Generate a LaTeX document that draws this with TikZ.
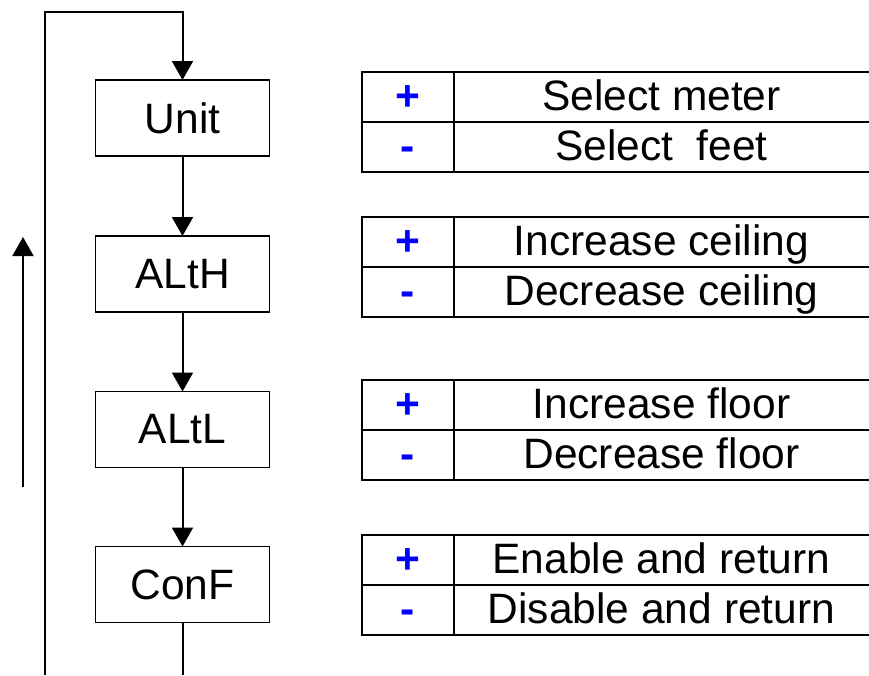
\documentclass[tikz,border=0pt]{standalone}
\usepackage{fontspec}
\setmainfont{Liberation Sans}
\usetikzlibrary{arrows.meta}
\begin{document}
\begin{tikzpicture}[x=1pt,y=-1pt,
  lbl/.style={font=\fontsize{42.5}{50}\selectfont},
  box/.style={lbl, draw, line width=1.5pt, minimum width=174pt, minimum height=76pt, inner sep=0pt, outer sep=0pt},
  keycell/.style={font=\fontsize{42.5}{50}\selectfont\bfseries, draw, line width=2.5pt, minimum width=92pt, minimum height=50pt, inner sep=0pt, outer sep=0pt, text=blue, text height=33pt, text depth=7pt},
  actcell/.style={lbl, draw, line width=2.5pt, minimum width=420pt, minimum height=50pt, inner sep=0pt, outer sep=0pt, anchor=west, text height=33pt, text depth=7pt},
  flow/.style={line width=2pt, -{Triangle[width=21pt,length=19pt]}},
  plain/.style={line width=2pt}]
\useasboundingbox (0,0) rectangle (869,675);

% flow boxes
\node[box] (unit) at (182.5,118) {Unit};
\node[box] (alth) at (182.5,274) {ALtH};
\node[box] (altl) at (182.5,429.5) {ALtL};
\node[box] (conf) at (182.5,584.5) {ConF};

\draw[flow] (unit) -- (alth);
\draw[flow] (alth) -- (altl);
\draw[flow] (altl) -- (conf);
\coordinate (cb) at (182.5,675);
\draw[plain] (conf) -- (cb);

% loop back
\coordinate (lb) at (45,675);
\coordinate (lt) at (45,12);
\draw[flow] (lb) -- (lt) -| (unit.north);

% up arrow
\coordinate (ua) at (23,487);
\coordinate (ub) at (23,237);
\draw[flow] (ua) -- (ub);

% tables
\node[keycell] (k1p) at (408,97) {+};
\node[keycell] (k1m) at (408,147) {-};
\node[actcell] (a1p) at (454,97) {\hspace*{-5pt}Select meter};
\node[actcell] (a1m) at (454,147) {\hspace*{-5pt}Select\ \ feet};

\node[keycell] (k2p) at (408,242) {+};
\node[keycell] (k2m) at (408,292) {-};
\node[actcell] (a2p) at (454,242) {\hspace*{-5pt}Increase ceiling};
\node[actcell] (a2m) at (454,292) {\hspace*{-5pt}Decrease ceiling};

\node[keycell] (k3p) at (408,405) {+};
\node[keycell] (k3m) at (408,455) {-};
\node[actcell] (a3p) at (454,405) {\hspace*{-5pt}Increase floor};
\node[actcell] (a3m) at (454,455) {\hspace*{-5pt}Decrease floor};

\node[keycell] (k4p) at (408,560) {+};
\node[keycell] (k4m) at (408,610) {-};
\node[actcell] (a4p) at (454,560) {\hspace*{-5pt}Enable and return};
\node[actcell] (a4m) at (454,610) {\hspace*{-5pt}Disable and return};
\end{tikzpicture}
\end{document}
